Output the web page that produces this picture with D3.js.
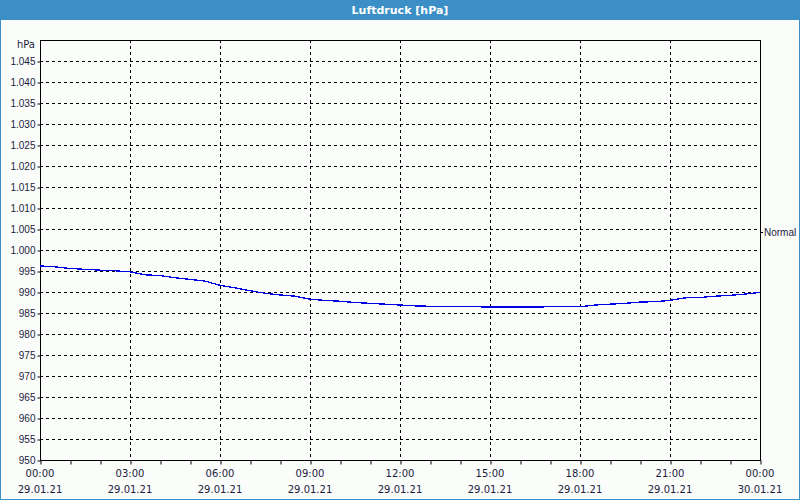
<!DOCTYPE html>
<html>
<head>
<meta charset="utf-8">
<script src="https://cdn.jsdelivr.net/npm/d3@7"></script>
<style>
    body { margin: 0; background: #fff; }
    svg { display: block; font-family: Tahoma, "DejaVu Sans", sans-serif; }
    .grid line { stroke: #000; stroke-dasharray: 3,3; shape-rendering: crispEdges; }
    .axis text { fill: #1c1c3c; font-size: 10px; }
</style>
</head>
<body>
<svg id="canvas" width="800" height="500"></svg>
<script>
const title = "Luftdruck [hPa]";
const unitLabel = "hPa";
const normalLabel = "Normal";
const normalValue = 1004.4;

// half-hourly readings, 29.01.21 00:00 .. 30.01.21 00:00
const hours = d3.range(0, 24.5, 0.5);
const pressure = [
    996.2, 996.0, 995.6, 995.4, 995.2, 995.05, 994.8, 994.1, 993.9, 993.4,
    993.0, 992.6, 991.6, 991.0, 990.3, 989.7, 989.3, 989.0, 988.3, 988.0,
    987.8, 987.5, 987.3, 987.1, 986.9, 986.7, 986.6, 986.6, 986.6, 986.5,
    986.4, 986.4, 986.4, 986.4, 986.5, 986.5, 986.5, 986.9, 987.1, 987.3,
    987.6, 987.7, 988.0, 988.6, 988.7, 989.0, 989.2, 989.5, 989.9
];
const timeLabels = ["00:00", "03:00", "06:00", "09:00", "12:00", "15:00", "18:00", "21:00", "00:00"];
const dateLabels = ["29.01.21", "29.01.21", "29.01.21", "29.01.21", "29.01.21", "29.01.21", "29.01.21", "29.01.21", "30.01.21"];
const yTicks = d3.range(950, 1050, 5);

const svg = d3.select("#canvas");
const W = 800, H = 500;
const margin = { top: 40, right: 40, bottom: 40, left: 40 };

const x = d3.scaleLinear().domain([0, 24]).range([margin.left, W - margin.right]);
const y = d3.scaleLinear().domain([950, 1050]).range([H - margin.bottom, margin.top]);

const fmt = d3.formatLocale({ decimal: ",", thousands: ".", grouping: [3], currency: ["", "€"] }).format(",d");

// background + frame
svg.append("rect").attr("width", W).attr("height", H).attr("fill", "#3b8fc6");
svg.append("rect").attr("x", 1).attr("y", 20).attr("width", W - 2).attr("height", H - 21).attr("fill", "#fbfdfb");

svg.append("text")
    .attr("x", W / 2).attr("y", 14)
    .attr("text-anchor", "middle")
    .attr("fill", "#fff")
    .style("font-size", "11px")
    .style("font-weight", "bold")
    .text(title);

// Grid
const grid = svg.append("g").attr("class", "grid");
grid.selectAll("line.h")
    .data(yTicks.filter(v => v > 950))
    .enter().append("line")
    .attr("x1", x(0)).attr("x2", x(24))
    .attr("y1", d => y(d) + 0.5).attr("y2", d => y(d) + 0.5);
grid.selectAll("line.v")
    .data(d3.range(3, 24, 3))
    .enter().append("line")
    .attr("y1", y(1050)).attr("y2", y(950))
    .attr("x1", d => x(d) + 0.5).attr("x2", d => x(d) + 0.5);

// Y axis
const yAxis = svg.append("g")
    .attr("class", "axis")
    .attr("transform", `translate(${x(0) + 0.5},0.5)`)
    .call(d3.axisLeft(y).tickValues(yTicks).tickSize(3).tickPadding(2).tickFormat(fmt));
yAxis.select(".domain").remove();
yAxis.selectAll("line").attr("stroke", "#000");

svg.append("text")
    .attr("class", "axis")
    .attr("x", 35).attr("y", y(1050) + 8)
    .attr("text-anchor", "end")
    .attr("fill", "#1c1c3c")
    .style("font-size", "10px")
    .text(unitLabel);

// X axis
const xAxis = svg.append("g")
    .attr("class", "axis")
    .attr("transform", `translate(0.5,${y(950) + 0.5})`)
    .call(d3.axisBottom(x).tickValues(d3.range(0, 25, 1)).tickSize(4).tickFormat(""));
xAxis.select(".domain").remove();
xAxis.selectAll("line").attr("stroke", "#000");

const xl = svg.append("g").attr("class", "axis");
xl.selectAll("text.t")
    .data(timeLabels)
    .enter().append("text")
    .attr("x", (d, i) => x(i * 3))
    .attr("y", 477)
    .attr("text-anchor", "middle")
    .text(d => d);
xl.selectAll("text.d")
    .data(dateLabels)
    .enter().append("text")
    .attr("x", (d, i) => x(i * 3))
    .attr("y", 493)
    .attr("text-anchor", "middle")
    .text(d => d);

// Plot frame
svg.append("rect")
    .attr("x", x(0) + 0.5).attr("y", y(1050) + 0.5)
    .attr("width", x(24) - x(0)).attr("height", y(950) - y(1050))
    .attr("fill", "none").attr("stroke", "#000")
    .style("shape-rendering", "crispEdges");

// Normal marker
svg.append("line")
    .attr("x1", x(24)).attr("x2", x(24) + 3)
    .attr("y1", Math.round(y(normalValue)) + 0.5).attr("y2", Math.round(y(normalValue)) + 0.5)
    .attr("stroke", "#000");
svg.append("text")
    .attr("x", x(24) + 4).attr("y", y(normalValue) + 4)
    .attr("fill", "#1c1c3c")
    .style("font-family", "'Liberation Sans', Arial, sans-serif")
    .style("font-size", "10px")
    .text(normalLabel);

// Line
const line = d3.line()
    .x((d, i) => x(hours[i]))
    .y(d => y(d));

svg.append("path")
    .datum(pressure)
    .attr("d", line)
    .attr("fill", "none")
    .attr("stroke", "#0000e6")
    .attr("stroke-width", 1.3)
    .style("shape-rendering", "crispEdges");
</script>
</body>
</html>
